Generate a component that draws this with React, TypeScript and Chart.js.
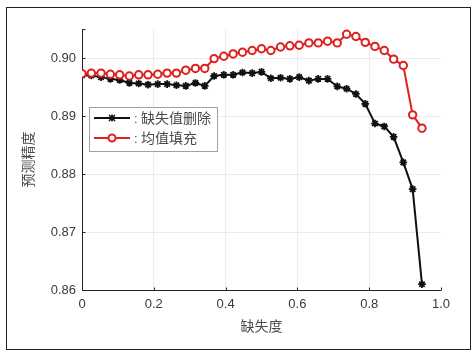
import React, { useEffect, useRef } from "react";
import { Chart, registerables } from "chart.js";

Chart.register(...registerables);

const missingRates = [
  0, 0.026, 0.053, 0.079, 0.105, 0.132, 0.158, 0.184, 0.211, 0.237, 0.263, 0.289,
  0.316, 0.342, 0.368, 0.395, 0.421, 0.447, 0.474, 0.5, 0.526, 0.553, 0.579, 0.605,
  0.632, 0.658, 0.684, 0.711, 0.737, 0.763, 0.789, 0.816, 0.842, 0.868, 0.895, 0.921, 0.947,
];

const deleteValues = [
  0.897, 0.897, 0.8967, 0.8964, 0.8962, 0.8957, 0.8956, 0.8954, 0.8955, 0.8955, 0.8953, 0.8952,
  0.8957, 0.8952, 0.8969, 0.8971, 0.8971, 0.8975, 0.8974, 0.8976, 0.8965, 0.8966, 0.8964, 0.8967,
  0.8961, 0.8964, 0.8964, 0.8951, 0.8947, 0.8938, 0.8921, 0.8887, 0.8882, 0.8864, 0.882, 0.8774, 0.861,
];

const meanFillValues = [
  0.8973, 0.8974, 0.8974, 0.8972, 0.8971, 0.8969, 0.8971, 0.8971, 0.8972, 0.8974, 0.8974, 0.8979,
  0.8982, 0.8982, 0.8999, 0.9003, 0.9007, 0.901, 0.9013, 0.9016, 0.9013, 0.9019, 0.9021, 0.9022,
  0.9026, 0.9026, 0.9029, 0.9026, 0.9041, 0.9037, 0.9027, 0.902, 0.9013, 0.8998, 0.8987, 0.8902, 0.8879,
];

const xTicks = [0, 0.2, 0.4, 0.6, 0.8, 1.0];
const yTicks = [0.86, 0.87, 0.88, 0.89, 0.9, 0.905];

const seriesNames = ["缺失值删除", "均值填充"];
const xTitle = "缺失度";
const yTitle = "预测精度";

const BLACK = "#111111";
const RED = "#dd2020";
const CJK = '"Noto Sans CJK SC", "Noto Sans", sans-serif';
const LATIN = '"Liberation Sans", Arial, sans-serif';

const decorPlugin = {
  id: "decor",
  beforeDatasetsDraw(chart: any) {
    const { ctx, chartArea } = chart;
    const xs = chart.scales.x;
    const ys = chart.scales.y;
    ctx.save();
    ctx.strokeStyle = "#222";
    ctx.lineWidth = 1;
    ctx.beginPath();
    const L = Math.round(chartArea.left) + 0.5;
    const B = Math.round(chartArea.bottom) + 0.5;
    ctx.moveTo(L, chartArea.top);
    ctx.lineTo(L, B);
    ctx.lineTo(xs.getPixelForValue(1.0), B);
    ctx.stroke();
    ctx.beginPath();
    yTicks.forEach((v) => {
      const y = Math.round(ys.getPixelForValue(v)) + 0.5;
      ctx.moveTo(L, y);
      ctx.lineTo(L + 3, y);
    });
    xTicks.forEach((v) => {
      const x = Math.round(xs.getPixelForValue(v)) + 0.5;
      ctx.moveTo(x, B);
      ctx.lineTo(x, B - 3);
    });
    ctx.stroke();

    // axis titles
    ctx.fillStyle = "#4a4a4a";
    ctx.font = `14px ${CJK}`;
    ctx.textAlign = "center";
    ctx.textBaseline = "middle";
    ctx.fillText(xTitle, (chartArea.left + chartArea.right) / 2, 318);
    ctx.save();
    ctx.translate(21, (chartArea.top + chartArea.bottom) / 2);
    ctx.rotate(-Math.PI / 2);
    ctx.fillText(yTitle, 0, 0);
    ctx.restore();
    ctx.restore();
  },
  afterDraw(chart: any) {
    const { ctx } = chart;
    ctx.save();
    // legend box
    const bx = 82.5, by = 99.5, bw = 128, bh = 44;
    ctx.fillStyle = "#ffffff";
    ctx.fillRect(bx, by, bw, bh);
    ctx.strokeStyle = "#a0a0a0";
    ctx.lineWidth = 1;
    ctx.strokeRect(bx, by, bw, bh);
    const rows = [
      { y: 110, color: BLACK, style: "star" },
      { y: 130, color: RED, style: "circle" },
    ];
    rows.forEach((r, i) => {
      ctx.strokeStyle = r.color;
      ctx.lineWidth = 2;
      ctx.beginPath();
      ctx.moveTo(87, r.y);
      ctx.lineTo(123, r.y);
      ctx.stroke();
      if (r.style === "circle") {
        ctx.fillStyle = "#fff";
        ctx.lineWidth = 2;
        ctx.beginPath();
        ctx.arc(105, r.y, 3.5, 0, Math.PI * 2);
        ctx.fill();
        ctx.stroke();
      } else {
        ctx.lineWidth = 1.6;
        ctx.beginPath();
        const s = 3;
        ctx.moveTo(105 - s, r.y - s); ctx.lineTo(105 + s, r.y + s);
        ctx.moveTo(105 - s, r.y + s); ctx.lineTo(105 + s, r.y - s);
        ctx.moveTo(105 - s - 0.5, r.y); ctx.lineTo(105 + s + 0.5, r.y);
        ctx.moveTo(105, r.y - s - 0.5); ctx.lineTo(105, r.y + s + 0.5);
        ctx.stroke();
      }
      ctx.fillStyle = "#4a4a4a";
      ctx.textBaseline = "middle";
      ctx.textAlign = "left";
      ctx.font = `13px ${LATIN}`;
      ctx.fillText(":", 127, r.y + 1);
      ctx.font = `14px ${CJK}`;
      ctx.fillText(seriesNames[i], 134, r.y);
    });
    ctx.restore();
  },
};

export default function App() {
  const ref = useRef<HTMLCanvasElement | null>(null);
  useEffect(() => {
    if (!ref.current) return;
    const chart = new Chart(ref.current, {
      type: "line",
      data: {
        datasets: [
          {
            label: seriesNames[1],
            data: missingRates.map((x, i) => ({ x, y: meanFillValues[i] })),
            borderColor: RED,
            backgroundColor: "#ffffff",
            borderWidth: 2,
            pointStyle: "circle",
            pointRadius: 3.7,
            pointBorderWidth: 2,
            pointBorderColor: RED,
            pointBackgroundColor: "#ffffff",
            tension: 0,
          },
          {
            label: seriesNames[0],
            data: missingRates.map((x, i) => ({ x, y: deleteValues[i] })),
            borderColor: BLACK,
            backgroundColor: BLACK,
            borderWidth: 2,
            pointStyle: "star",
            pointRadius: 3.8,
            pointBorderWidth: 1.8,
            pointBorderColor: BLACK,
            tension: 0,
          },
        ],
      },
      options: {
        animation: false,
        responsive: false,
        maintainAspectRatio: false,
        layout: { padding: { left: 0, top: 21, right: 29, bottom: 0 } },
        plugins: { legend: { display: false }, tooltip: { enabled: false } },
        scales: {
          x: {
            type: "linear",
            min: 0,
            max: 1,
            afterBuildTicks: (s: any) => {
              s.ticks = xTicks.map((v) => ({ value: v }));
            },
            afterFit: (s: any) => {
              s.height = 59;
            },
            ticks: {
              color: "#3a3a3a",
              font: { family: LATIN, size: 13 },
              padding: 7,
              maxRotation: 0,
              callback: (v: any) => (v === 0 ? "0" : Number(v).toFixed(1)),
            },
            grid: {
              drawTicks: false,
              color: (c: any) =>
                c.tick && (c.tick.value === 0 || c.tick.value === 1) ? "rgba(0,0,0,0)" : "#ececec",
            },
            border: { display: false },
          },
          y: {
            type: "linear",
            min: 0.86,
            max: 0.905,
            afterBuildTicks: (s: any) => {
              s.ticks = yTicks.map((v) => ({ value: v }));
            },
            afterFit: (s: any) => {
              s.width = 75;
            },
            ticks: {
              color: "#3a3a3a",
              font: { family: LATIN, size: 13 },
              padding: 6,
              callback: (v: any) => (Math.abs(v - 0.905) < 1e-6 ? "" : Number(v).toFixed(2)),
            },
            grid: {
              drawTicks: false,
              color: (c: any) =>
                c.tick && (Math.abs(c.tick.value - 0.905) < 1e-6 || Math.abs(c.tick.value - 0.86) < 1e-6)
                  ? "rgba(0,0,0,0)"
                  : "#ececec",
            },
            border: { display: false },
          },
        },
      } as any,
      plugins: [decorPlugin],
    });
    return () => chart.destroy();
  }, []);

  return (
    <div
      style={{
        position: "absolute",
        left: 6,
        top: 7,
        width: 463,
        height: 341,
        border: "1px solid #222",
        background: "#fff",
      }}
    >
      <canvas ref={ref} width={463} height={341} style={{ display: "block", width: 463, height: 341 }} />
    </div>
  );
}
